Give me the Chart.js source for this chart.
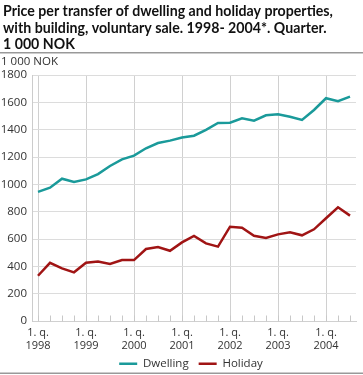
<!DOCTYPE html>
<html><head><meta charset="utf-8">
<script src="https://cdn.jsdelivr.net/npm/chart.js@4/dist/chart.umd.min.js"></script>
<style>html,body{margin:0;padding:0;background:#fff;overflow:hidden}#wrap{width:363px;height:375px;position:relative}</style>
</head><body><div id="wrap"><canvas id="c" width="363" height="375"></canvas></div>
<script>
const titleLines = ['Price per transfer of dwelling and holiday properties,', 'with building, voluntary sale. 1998- 2004*. Quarter.', '1 000 NOK'];
const unitLabel = '1 000 NOK';
const categories = ['1998K1','1998K2','1998K3','1998K4','1999K1','1999K2','1999K3','1999K4','2000K1','2000K2','2000K3','2000K4','2001K1','2001K2','2001K3','2001K4','2002K1','2002K2','2002K3','2002K4','2003K1','2003K2','2003K3','2003K4','2004K1','2004K2','2004K3'];
const quarterLabel = '1. q.';
const yearLabels = ['1998','1999','2000','2001','2002','2003','2004'];
const dwelling = [945,975,1041,1017, 1036,1075,1134,1183, 1210,1264,1302,1320, 1343,1356,1398,1449, 1451,1483,1466,1505, 1513,1495,1471,1544, 1630,1608,1642];
const holiday = [331,426,385,356, 426,436,417,446, 446,527,541,514, 575,622,568,544, 690,683,624,607, 634,649,627,671, 752,832,771];
const seriesNames = ['Dwelling','Holiday'];

const FONT = '"Open Sans", "DejaVu Sans", sans-serif';
const TITLE_FONT = 'Lato, "Open Sans", sans-serif';
const TEXT = '#333333';
const GRID = '#dcdcdc';

const decor = {
  id: 'decor',
  afterLayout(chart) {
    const lg = chart.legend;
    if (lg) { lg.top -= 5; lg.bottom -= 5; lg.left += 13; lg.right += 13; }
  },
  beforeDatasetsDraw(chart) {
    const ctx = chart.ctx, xs = chart.scales.x, ys = chart.scales.y;
    const base = Math.round(ys.getPixelForValue(0)) + 0.5;
    ctx.save();
    ctx.strokeStyle = '#c8c8c8'; ctx.lineWidth = 1;
    for (let i = 0; i < categories.length; i++) {
      const px = Math.round(xs.getPixelForValue(i)) + 0.5;
      ctx.beginPath(); ctx.moveTo(px, base); ctx.lineTo(px, base - 6); ctx.stroke();
    }
    ctx.restore();
  },
  afterDraw(chart) {
    const ctx = chart.ctx;
    ctx.save();
    ctx.fillStyle = '#111';
    let size = 15;
    ctx.font = 'bold ' + size + 'px ' + TITLE_FONT;
    size = size * 330 / ctx.measureText(titleLines[0]).width;
    ctx.font = 'bold ' + size.toFixed(2) + 'px ' + TITLE_FONT;
    ctx.textBaseline = 'middle';
    ctx.textAlign = 'left';
    const ty = [11, 28, 44];
    titleLines.forEach((t, i) => ctx.fillText(t, 3, ty[i]));
    ctx.fillStyle = '#999';
    ctx.fillRect(0, 52, 363, 1.5);
    ctx.fillRect(0, 372.5, 363, 1.5);
    ctx.fillStyle = TEXT;
    ctx.font = '11.5px ' + FONT;
    ctx.fillText(unitLabel, 1, 62);
    ctx.restore();
  }
};

new Chart(document.getElementById('c'), {
  type: 'line',
  data: {
    labels: categories,
    datasets: [
      { label: seriesNames[0], data: dwelling, borderColor: '#1a9a9a', backgroundColor: '#1a9a9a', borderWidth: 2.5, pointRadius: 0, tension: 0 },
      { label: seriesNames[1], data: holiday, borderColor: '#a01414', backgroundColor: '#a01414', borderWidth: 2.5, pointRadius: 0, tension: 0 }
    ]
  },
  options: {
    responsive: false,
    animation: false,
    devicePixelRatio: 1,
    layout: { padding: { top: 75, left: 0, right: 7, bottom: 0 } },
    plugins: {
      title: { display: false },
      tooltip: { enabled: false },
      legend: {
        position: 'bottom',
        maxHeight: 22,
        labels: { boxWidth: 18, boxHeight: 0, padding: 10, color: TEXT, font: { family: FONT, size: 11.5 } }
      }
    },
    scales: {
      x: {
        offset: true,
        grid: {
          color: (c) => (c.index % 4 === 0 ? '#d0d0d0' : 'rgba(0,0,0,0)'),
          drawTicks: false
        },
        border: { color: '#d0d0d0' },
        ticks: {
          autoSkip: false, maxRotation: 0, minRotation: 0, padding: 5,
          color: TEXT, font: { family: FONT, size: 11 },
          callback: (v, i) => (i % 4 === 0 ? [quarterLabel, yearLabels[i / 4]] : '')
        },
        afterFit: (s) => { s.height = 32; }
      },
      y: {
        min: 0, max: 1800,
        grid: { color: GRID, drawTicks: false },
        border: { color: '#cccccc' },
        ticks: { stepSize: 200, padding: 5, color: TEXT, font: { family: FONT, size: 11.5 }, callback: (v) => String(v) },
        afterFit: (s) => { s.width = 32; }
      }
    }
  },
  plugins: [decor]
});
</script>
</body></html>
